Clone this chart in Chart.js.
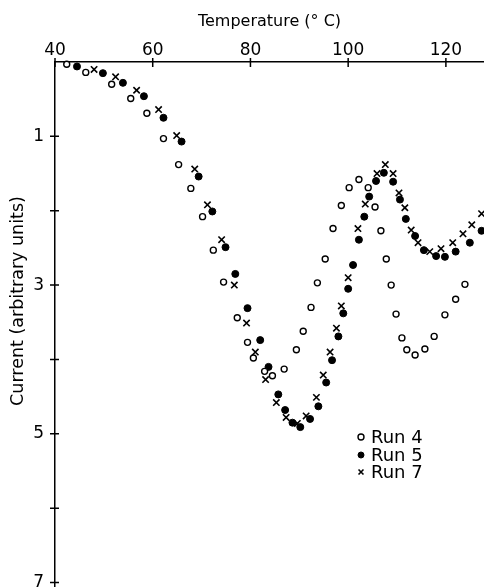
<!DOCTYPE html>
<html>
<head>
<meta charset="utf-8">
<script src="https://cdn.jsdelivr.net/npm/chart.js@4/dist/chart.umd.min.js"></script>
<style>
  html, body { margin: 0; padding: 0; background: #fff; overflow: hidden; }
  #wrap { width: 484px; height: 587px; overflow: hidden; }
  #chart { display: block; }
</style>
</head>
<body>
<div id="wrap"><canvas id="chart" width="484" height="587"></canvas></div>
<script>
// values
const run4Temp = [42.4, 46.3, 51.6, 55.5, 58.8, 62.2, 65.3, 67.8, 70.2, 72.4, 74.5, 77.3, 79.4, 80.6, 82.9, 84.5, 86.9, 89.4, 90.8, 92.4, 93.7, 95.3, 96.9, 98.6, 100.2, 102.2, 104.1, 105.5, 106.7, 107.8, 108.8, 109.8, 111.0, 112.0, 113.7, 115.7, 117.6, 119.8, 122.0, 123.9];
const run4Current = [0.03, 0.14, 0.30, 0.49, 0.69, 1.03, 1.38, 1.70, 2.08, 2.53, 2.96, 3.44, 3.77, 3.98, 4.16, 4.22, 4.13, 3.87, 3.62, 3.30, 2.97, 2.65, 2.24, 1.93, 1.69, 1.58, 1.69, 1.95, 2.27, 2.65, 3.00, 3.39, 3.71, 3.87, 3.94, 3.86, 3.69, 3.40, 3.19, 2.99];

const run5Temp = [44.5, 49.8, 53.9, 58.2, 62.2, 65.9, 69.4, 72.2, 74.9, 76.9, 79.4, 82.0, 83.7, 85.7, 87.1, 88.6, 90.2, 92.2, 93.9, 95.5, 96.7, 98.0, 99.0, 100.0, 101.0, 102.2, 103.3, 104.3, 105.7, 107.3, 109.2, 110.6, 111.8, 113.7, 115.5, 118.0, 119.8, 122.0, 124.9, 127.3];
const run5Current = [0.06, 0.15, 0.28, 0.46, 0.75, 1.07, 1.54, 2.01, 2.49, 2.85, 3.31, 3.74, 4.10, 4.47, 4.68, 4.85, 4.91, 4.80, 4.63, 4.31, 4.01, 3.69, 3.38, 3.05, 2.73, 2.39, 2.08, 1.81, 1.60, 1.49, 1.61, 1.85, 2.11, 2.34, 2.53, 2.61, 2.62, 2.55, 2.43, 2.27];

const run7Temp = [48.0, 52.4, 56.7, 61.2, 64.9, 68.6, 71.2, 74.1, 76.7, 79.2, 81.0, 83.1, 85.3, 87.3, 89.6, 91.4, 93.5, 94.9, 96.3, 97.6, 98.6, 100.0, 102.0, 103.5, 105.9, 107.6, 109.2, 110.4, 111.6, 112.9, 114.3, 116.7, 119.0, 121.4, 123.5, 125.3, 127.3];
const run7Current = [0.10, 0.20, 0.38, 0.64, 0.99, 1.44, 1.92, 2.39, 3.00, 3.51, 3.90, 4.27, 4.58, 4.78, 4.86, 4.76, 4.51, 4.21, 3.90, 3.58, 3.28, 2.90, 2.24, 1.91, 1.50, 1.38, 1.50, 1.76, 1.96, 2.26, 2.43, 2.55, 2.51, 2.43, 2.31, 2.19, 2.04];

const seriesLabels = ['Run 4', 'Run 5', 'Run 7'];
const xTitle = 'Temperature (° C)';
const yTitle = 'Current (arbitrary units)';
const yLabelled = [1, 3, 5, 7];

const FONT = "'DejaVu Sans', sans-serif";

function toPoints(xs, ys) {
  return xs.map((x, i) => ({ x: x, y: ys[i] }));
}

// tick marks that cross the axis lines
const crossTicks = {
  id: 'crossTicks',
  afterDraw(chart) {
    const ctx = chart.ctx;
    const xs = chart.scales.x;
    const ys = chart.scales.y;
    const area = chart.chartArea;
    ctx.save();
    ctx.strokeStyle = '#000';
    ctx.lineWidth = 1.5;
    ctx.beginPath();
    xs.ticks.forEach(t => {
      const px = xs.getPixelForValue(t.value);
      ctx.moveTo(px, area.top - 4);
      ctx.lineTo(px, area.top + 5);
    });
    ys.ticks.forEach(t => {
      if (t.value === 0) return;
      const py = ys.getPixelForValue(t.value);
      ctx.moveTo(area.left - 5, py);
      ctx.lineTo(area.left + 4, py);
    });
    ctx.stroke();

    // y axis title
    ctx.fillStyle = '#000';
    ctx.font = '17.5px ' + FONT;
    ctx.textAlign = 'center';
    ctx.textBaseline = 'middle';
    ctx.translate(18, 301);
    ctx.rotate(-Math.PI / 2);
    ctx.fillText(yTitle, 0, 0);
    ctx.restore();
  }
};

// legend inside the plot
const innerLegend = {
  id: 'innerLegend',
  afterDraw(chart) {
    const ctx = chart.ctx;
    const x0 = 361;
    const rows = [437, 455, 472];
    ctx.save();
    chart.data.datasets.forEach((ds, i) => {
      ctx.fillStyle = ds.pointBackgroundColor;
      ctx.strokeStyle = ds.pointBorderColor;
      ctx.lineWidth = ds.pointBorderWidth;
      Chart.helpers.drawPoint(ctx, {
        pointStyle: ds.pointStyle,
        radius: ds.pointStyle === 'crossRot' ? 3.5 : 3,
        rotation: 0,
        borderWidth: ds.pointBorderWidth
      }, x0, rows[i]);
      ctx.fillStyle = '#000';
      ctx.font = '18px ' + FONT;
      ctx.textAlign = 'left';
      ctx.textBaseline = 'middle';
      ctx.fillText(ds.label, x0 + 10, rows[i] + 1);
    });
    ctx.restore();
  }
};

new Chart(document.getElementById('chart'), {
  type: 'scatter',
  data: {
    datasets: [
      {
        label: seriesLabels[0],
        data: toPoints(run4Temp, run4Current),
        pointStyle: 'circle',
        pointRadius: 3,
        pointBorderWidth: 1.4,
        pointBackgroundColor: '#fff',
        pointBorderColor: '#000',
        clip: false
      },
      {
        label: seriesLabels[1],
        data: toPoints(run5Temp, run5Current),
        pointStyle: 'circle',
        pointRadius: 3.5,
        pointBorderWidth: 1,
        pointBackgroundColor: '#000',
        pointBorderColor: '#000',
        clip: false
      },
      {
        label: seriesLabels[2],
        data: toPoints(run7Temp, run7Current),
        pointStyle: 'crossRot',
        pointRadius: 4.5,
        pointBorderWidth: 1.6,
        pointBackgroundColor: '#000',
        pointBorderColor: '#000',
        clip: false
      }
    ]
  },
  options: {
    responsive: false,
    animation: false,
    layout: { padding: 0, autoPadding: false },
    plugins: {
      legend: { display: false },
      tooltip: { enabled: false }
    },
    scales: {
      x: {
        type: 'linear',
        position: 'top',
        min: 40,
        max: 127.8,
        grid: { display: false, drawTicks: false },
        border: { display: true, color: '#000', width: 1.5 },
        ticks: {
          stepSize: 20,
          includeBounds: false,
          padding: 1,
          color: '#000',
          maxRotation: 0,
          font: { family: FONT, size: 17 }
        },
        title: {
          display: true,
          text: xTitle,
          color: '#000',
          font: { family: FONT, size: 16 },
          padding: { top: 12, bottom: 0 }
        },
        afterFit(s) {
          s.height = 62;
          s.paddingLeft = 0;
          s.paddingRight = 0;
        }
      },
      y: {
        type: 'linear',
        reverse: true,
        min: 0,
        max: 7.06,
        grid: { display: false, drawTicks: false },
        border: { display: true, color: '#000', width: 1.5 },
        ticks: {
          stepSize: 1,
          includeBounds: false,
          padding: 11,
          color: '#000',
          font: { family: FONT, size: 17 },
          callback: v => (yLabelled.includes(v) ? String(v) : '')
        },
        afterFit(s) {
          s.width = 55;
          s.paddingTop = 0;
          s.paddingBottom = 0;
        }
      }
    }
  },
  plugins: [crossTicks, innerLegend]
});
</script>
</body>
</html>
